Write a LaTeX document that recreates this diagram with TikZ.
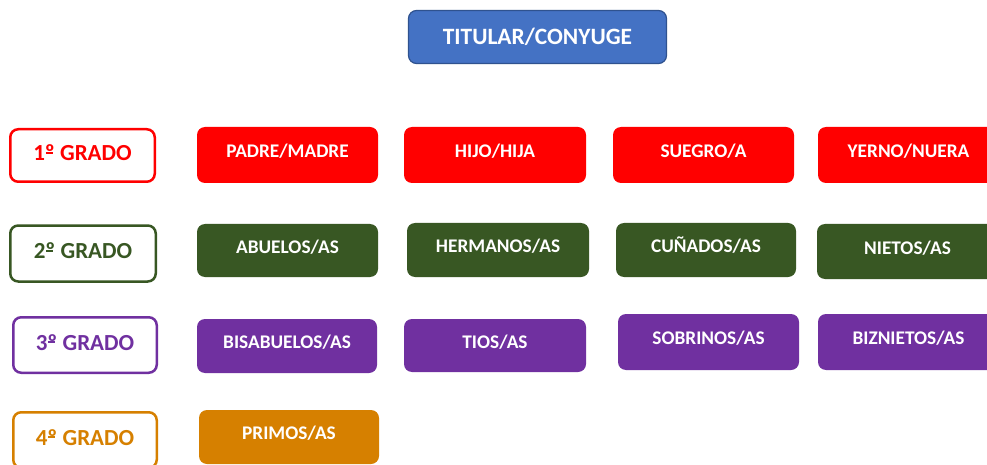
\documentclass[tikz,border=0pt]{standalone}
\usepackage{fontspec}
\setmainfont{Carlito}
\definecolor{cblue}{HTML}{4472C4}
\definecolor{cblueb}{HTML}{2F528F}
\definecolor{cred}{HTML}{FF0000}
\definecolor{cgreen}{HTML}{385723}
\definecolor{cpurple}{HTML}{7030A0}
\definecolor{corange}{HTML}{D68000}
\newcommand\myordm{\makebox[0pt][l]{\hspace{0.04em}\rule[0.30em]{0.30em}{0.07em}}º}
\tikzset{
  fillbox/.style={rounded corners=8pt, fill=#1, draw=none, inner sep=0pt,
    text=white, font=\fontsize{19.3}{21}\selectfont\bfseries,
    text height=12.5pt, text depth=7pt},
  gradobox/.style={rounded corners=8pt, draw=#1, line width=2.5pt, fill=white,
    inner sep=0pt, text=#1, font=\fontsize{23}{25}\selectfont\bfseries,
    text height=15pt, text depth=5pt},
  titbox/.style={rounded corners=8pt, fill=cblue, draw=cblueb, line width=1.2pt,
    inner sep=0pt, text=white, font=\fontsize{23.4}{25}\selectfont\bfseries,
    text height=15pt, text depth=0pt}
}
\begin{document}
\begin{tikzpicture}[x=1pt,y=1pt]
\useasboundingbox (0,0) rectangle (987,464);
\clip (0,0) rectangle (987,464);
\fill[white] (0,0) rectangle (987,464);
% title
\node[titbox, minimum width=258pt, minimum height=53pt] (tit) at (537.5,427) {TITULAR/CONYUGE};
% grado labels
\node[gradobox=cred, minimum width=144.5pt, minimum height=52.5pt] (g1) at (82.5,308.5) {1\myordm{} GRADO};
\node[gradobox=cgreen, minimum width=145.5pt, minimum height=56pt] (g2) at (83,210.5) {2\myordm{} GRADO};
\node[gradobox=cpurple, minimum width=143.5pt, minimum height=55.5pt] (g3) at (85,119) {3\myordm{} GRADO};
\node[gradobox=corange, minimum width=143.5pt, minimum height=55.5pt] (g4) at (85,24) {4\myordm{} GRADO};
% row 1
\node[fillbox=cred, minimum width=181pt, minimum height=56pt] (padre) at (287.5,309) {PADRE/MADRE};
\node[fillbox=cred, minimum width=182pt, minimum height=56pt] (hijo) at (495,309) {HIJO/HIJA};
\node[fillbox=cred, minimum width=181pt, minimum height=56pt] (suegro) at (703.5,309) {SUEGRO/A};
\node[fillbox=cred, minimum width=181pt, minimum height=56pt] (yerno) at (908.5,309) {YERNO/NUERA};
% row 2
\node[fillbox=cgreen, minimum width=181pt, minimum height=53pt] (abuelos) at (287.5,213.5) {ABUELOS/AS};
\node[fillbox=cgreen, minimum width=182pt, minimum height=54pt] (hermanos) at (498,214) {HERMANOS/AS};
\node[fillbox=cgreen, minimum width=180pt, minimum height=54pt] (cunados) at (706,214) {CUÑADOS/AS};
\node[fillbox=cgreen, minimum width=181pt, minimum height=55pt] (nietos) at (907.5,212.5) {NIETOS/AS};
% row 3
\node[fillbox=cpurple, minimum width=180pt, minimum height=54pt] (bisabuelos) at (287,118) {BISABUELOS/AS};
\node[fillbox=cpurple, minimum width=182pt, minimum height=53pt] (tios) at (495,118.5) {TIOS/AS};
\node[fillbox=cpurple, minimum width=181pt, minimum height=56pt] (sobrinos) at (708.5,122) {SOBRINOS/AS};
\node[fillbox=cpurple, minimum width=181pt, minimum height=56pt] (biznietos) at (908.5,122) {BIZNIETOS/AS};
% row 4
\node[fillbox=corange, minimum width=180pt, minimum height=54pt] (primos) at (289,27) {PRIMOS/AS};
\end{tikzpicture}
\end{document}
